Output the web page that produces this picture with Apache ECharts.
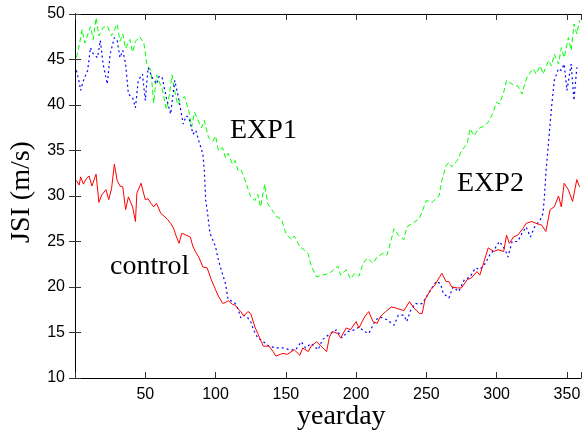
<!DOCTYPE html>
<html>
<head>
<meta charset="utf-8">
<script src="https://cdn.jsdelivr.net/npm/echarts@6/dist/echarts.min.js"></script>
<style>html,body{margin:0;padding:0;background:#fff;}#c{width:584px;height:432px;}</style>
</head>
<body>
<div id="c"></div>
<script>
// EXP1 (green dashed)
const exp1Days = [1,3,5,7,9,11,13,15,17,20,23,26,28,30,32,34,36,39,41,43,46,49,51,54,56,58,60,62,65,67,69,71,73,75,78,81,83,85,87,90,92,95,98,100,102,105,107,109,112,114,116,118,120,123,125,128,130,132,135,137,140,143,147,150,154,156,160,163,166,168,172,176,181,184,187,189,193,196,199,202,205,208,212,215,219,222,225,227,230,234,236,240,245,250,254,259,261,264,266,268,272,275,279,281,284,287,291,294,297,300,302,305,307,309,313,315,318,320,322,326,328,331,333,337,339,341,344,346,348,351,353,355,357,359];
const exp1Vals = [45.2,46.5,48.3,46.8,47.7,48.6,47.2,49.6,47.6,48.5,48.7,47.6,48.2,48.9,47.0,47.8,46.2,47.2,45.8,47.0,47.5,46.8,44.6,43.8,40.2,43.3,42.5,41.8,39.5,41.0,43.3,41.5,40.0,40.6,40.9,39.3,37.6,39.2,38.5,37.5,38.3,36.4,36.0,36.6,35.0,35.3,34.2,34.7,33.5,33.9,32.8,32.9,32.2,30.8,29.9,29.5,30.2,28.8,31.3,29.2,28.5,27.8,27.4,25.9,25.2,25.6,24.4,24.1,23.6,22.3,21.1,21.3,21.5,21.9,22.3,21.3,21.9,20.9,21.5,21.2,22.6,23.2,22.6,23.3,23.7,23.5,25.2,26.4,25.7,25.2,26.6,27.0,27.5,29.5,29.3,30.0,31.7,33.3,33.7,33.2,33.9,35.0,35.7,37.4,36.6,37.4,37.7,38.1,39.0,40.3,40.1,41.4,42.7,42.5,42.1,42.1,41.2,42.3,43.2,44.0,43.4,44.3,43.4,44.9,44.3,45.6,44.5,46.3,45.2,47.4,46.0,48.9,47.8,49.3];

// EXP2 (blue dotted)
const exp2Days = [1,3,4,6,9,11,13,16,18,20,23,25,28,30,32,34,36,38,41,43,45,48,50,52,55,58,60,62,65,68,71,74,77,79,81,84,86,88,91,92,93,94,96,98,100,102,104,107,109,111,114,116,118,120,123,125,127,130,134,138,143,148,153,157,161,164,168,173,176,180,183,186,190,194,199,202,206,209,214,217,222,227,230,234,236,239,242,245,247,250,254,257,260,262,266,269,273,277,281,285,288,292,295,299,302,306,308,311,315,318,321,324,327,331,333,334,335,337,339,341,344,346,348,350,353,355,357,359];
const exp2Vals = [43.8,42.5,41.6,42.7,43.8,46.3,45.6,45.2,47.1,44.5,42.3,45.6,47.4,47.1,45.2,46.0,44.5,41.2,40.8,39.7,42.7,43.4,40.5,44.1,43.0,42.3,43.2,43.0,40.8,39.0,42.7,40.5,37.9,38.8,38.6,36.8,37.2,36.1,34.6,32.8,29.5,28.5,25.9,25.2,24.4,23.0,21.9,20.4,18.6,18.5,18.2,17.6,16.6,16.9,16.6,16.2,15.3,14.4,14.0,13.5,13.3,13.3,13.1,13.1,14.0,13.3,13.8,13.1,14.2,14.7,15.0,15.3,14.4,15.1,15.3,15.6,15.1,14.9,16.4,16.7,16.4,15.8,16.9,16.9,16.2,17.5,18.2,18.1,18.2,18.9,19.9,20.6,20.4,19.3,18.8,20.0,19.5,20.8,21.1,22.1,21.9,22.6,23.5,24.3,25.0,24.1,23.3,25.0,25.0,25.9,26.6,25.5,26.6,27.4,28.1,30.0,32.5,36.1,39.7,42.7,44.0,43.8,44.5,41.6,44.5,40.5,44.1,43.8];

// control (red solid)
const ctrlDays = [1,3,4,6,8,10,12,15,17,19,22,24,26,28,30,32,34,36,38,41,43,44,47,50,52,54,56,58,61,64,66,68,70,72,74,76,79,82,84,86,88,91,94,97,100,102,105,107,109,112,114,116,118,120,123,125,128,130,132,134,138,141,143,146,148,151,153,156,160,162,166,168,172,175,179,181,183,187,189,193,196,200,202,206,209,212,215,217,221,225,228,232,234,238,241,245,247,249,253,256,259,261,264,266,268,272,275,279,282,286,288,292,294,298,301,305,307,309,312,315,319,321,325,328,332,335,338,341,344,346,348,351,354,357,359];
const ctrlVals = [31.7,31.2,32.1,31.3,31.9,32.2,31.1,32.4,29.3,30.1,30.7,29.6,30.8,33.5,31.7,31.1,31.0,28.5,29.9,28.8,27.2,30.3,31.4,29.6,29.7,29.2,28.8,29.2,28.1,27.7,27.4,27.0,26.5,25.6,24.8,25.9,25.7,25.5,24.4,23.8,23.3,22.2,22.1,20.8,19.7,19.0,18.2,18.3,18.5,18.1,18.0,17.6,17.3,16.8,17.3,17.1,15.6,14.9,14.2,13.5,13.5,12.9,12.4,12.6,12.7,12.6,12.8,13.1,12.5,13.3,12.9,13.5,14.0,13.5,12.9,14.5,15.1,14.9,14.4,15.5,15.3,16.2,15.5,16.7,17.3,16.2,16.0,16.7,17.3,17.8,17.7,17.5,17.4,18.4,17.7,17.1,17.1,18.6,19.7,20.2,21.0,21.5,20.6,20.6,20.0,19.9,19.9,20.8,21.0,21.7,21.3,23.3,24.3,23.9,24.1,23.9,25.7,24.8,25.5,25.7,26.5,27.0,27.2,27.0,26.8,26.1,28.5,28.8,30.0,28.8,31.4,30.7,29.4,31.8,31.0];

const xTicks = [50,100,150,200,250,300,350];
const yTicks = [10,15,20,25,30,35,40,45,50];

function pairs(d, v){ return d.map((x,i)=>[x, v[i]]); }

const chart = echarts.init(document.getElementById('c'), null, {renderer:'canvas'});
const axisLine = {show:true, lineStyle:{color:'#000', width:1}};
const tick = {show:true, inside:true, length:6, lineStyle:{color:'#333', width:1}};
const lab = {color:'#000', fontSize:16, fontFamily:'Liberation Sans, Arial, sans-serif'};
chart.setOption({
  animation:false,
  backgroundColor:'#fff',
  grid:{left:75, right:1, top:14, bottom:54, containLabel:false},
  xAxis:[
    {type:'value', position:'bottom', min:0, max:360, interval:50, axisLine, axisTick:tick, splitLine:{show:false},
     axisLabel:Object.assign({margin:9, formatter:v=>xTicks.includes(v)?String(v):''}, lab)},
    {type:'value', position:'top', min:0, max:360, interval:50, axisLine, axisTick:tick, splitLine:{show:false}, axisLabel:{show:false}}
  ],
  yAxis:[
    {type:'value', position:'left', min:10, max:50, interval:5, axisLine, axisTick:tick, splitLine:{show:false},
     axisLabel:Object.assign({margin:10, formatter:v=>yTicks.includes(v)?String(v):''}, lab)},
    {type:'value', position:'right', min:10, max:50, interval:5, axisLine, axisTick:tick, splitLine:{show:false}, axisLabel:{show:false}}
  ],
  series:[
    {name:'EXP1', type:'line', data:pairs(exp1Days, exp1Vals), showSymbol:false, symbol:'none',
     lineStyle:{color:'#00ff00', width:1, type:[5,3]}, z:2},
    {name:'EXP2', type:'line', data:pairs(exp2Days, exp2Vals), showSymbol:false, symbol:'none',
     lineStyle:{color:'#0000ff', width:1.2, type:[2,3]}, z:3},
    {name:'control', type:'line', data:pairs(ctrlDays, ctrlVals), showSymbol:false, symbol:'none',
     lineStyle:{color:'#ff0000', width:1}, z:4}
  ],
  graphic:[
    {type:'text', left:230, top:117, style:{text:'EXP1', font:'28px "Liberation Serif", "Times New Roman", serif', fill:'#000'}},
    {type:'text', left:457, top:170, style:{text:'EXP2', font:'28px "Liberation Serif", "Times New Roman", serif', fill:'#000'}},
    {type:'text', left:110, top:253, style:{text:'control', font:'28px "Liberation Serif", "Times New Roman", serif', fill:'#000'}},
    {type:'text', left:297, top:403, style:{text:'yearday', font:'28px "Liberation Serif", "Times New Roman", serif', fill:'#000'}},
    {type:'text', x:22, y:192, rotation:Math.PI/2, style:{text:'JSI (m/s)', font:'28px "Liberation Serif", "Times New Roman", serif', fill:'#000', align:'center', verticalAlign:'middle'}}
  ]
});
</script>
</body>
</html>
